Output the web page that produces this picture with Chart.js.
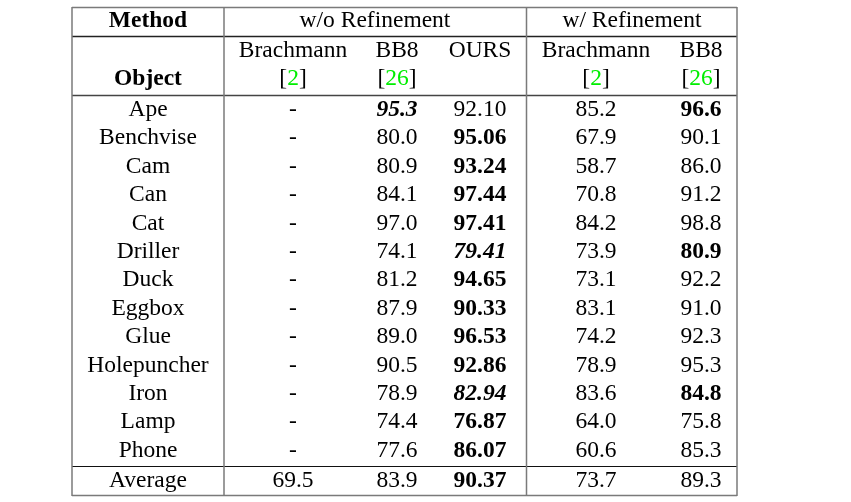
<!DOCTYPE html>
<html lang="en">
<head>
    <meta charset="UTF-8">
    <title>Pose estimation results</title>
    <script src="https://cdn.jsdelivr.net/npm/chart.js"></script>
    <style>
        html, body {
            margin: 0;
            padding: 0;
            background: #ffffff;
        }
        #tableChart {
            display: block;
        }
    </style>
</head>
<body>
<canvas id="tableChart" width="851" height="502"></canvas>

<script>
    // Table data
    const objects = ["Ape", "Benchvise", "Cam", "Can", "Cat", "Driller", "Duck", "Eggbox",
                     "Glue", "Holepuncher", "Iron", "Lamp", "Phone"];
    const brachmannNoRef = [null, null, null, null, null, null, null, null, null, null, null, null, null];
    const bb8NoRef = [95.3, 80.0, 80.9, 84.1, 97.0, 74.1, 81.2, 87.9, 89.0, 90.5, 78.9, 74.4, 77.6];
    const ours = [92.10, 95.06, 93.24, 97.44, 97.41, 79.41, 94.65, 90.33, 96.53, 92.86, 82.94, 76.87, 86.07];
    const brachmannRef = [85.2, 67.9, 58.7, 70.8, 84.2, 73.9, 73.1, 83.1, 74.2, 78.9, 83.6, 64.0, 60.6];
    const bb8Ref = [96.6, 90.1, 86.0, 91.2, 98.8, 80.9, 92.2, 91.0, 92.3, 95.3, 84.8, 75.8, 85.3];
    const averages = [69.5, 83.9, 90.37, 73.7, 89.3];

    // best results: b = bold, bi = bold italic (one entry per object, then average)
    const bb8NoRefMark = ["bi", "", "", "", "", "", "", "", "", "", "", "", "", ""];
    const oursMark = ["", "b", "b", "b", "b", "bi", "b", "b", "b", "b", "bi", "b", "b", "b"];
    const bb8RefMark = ["b", "", "", "", "", "b", "", "", "", "", "b", "", "", ""];

    // Layout (pixels)
    const colX = [148, 293, 397, 480, 596, 701];
    const firstBase = 116, rowStep = 28.4, avgBase = 487;
    const FONT = '"Liberation Serif", "Times New Roman", serif';
    const SIZE = 23.5;

    function fmt(v, d) {
        return v === null ? "-" : v.toFixed(d);
    }

    const rowY = objects.map((o, i) => firstBase + i * rowStep).concat([avgBase]);

    const columns = [
        { texts: objects.concat(["Average"]), marks: [] },
        { texts: brachmannNoRef.map(v => fmt(v, 1)).concat([fmt(averages[0], 1)]), marks: [] },
        { texts: bb8NoRef.map(v => fmt(v, 1)).concat([fmt(averages[1], 1)]), marks: bb8NoRefMark },
        { texts: ours.map(v => fmt(v, 2)).concat([fmt(averages[2], 2)]), marks: oursMark },
        { texts: brachmannRef.map(v => fmt(v, 1)).concat([fmt(averages[3], 1)]), marks: [] },
        { texts: bb8Ref.map(v => fmt(v, 1)).concat([fmt(averages[4], 1)]), marks: bb8RefMark }
    ];

    function fontFor(mark) {
        if (mark === "b") return "bold " + SIZE + "px " + FONT;
        if (mark === "bi") return "italic bold " + SIZE + "px " + FONT;
        return SIZE + "px " + FONT;
    }

    // grid lines of the table
    const gray = "#7a7a7a";
    const hLines = [
        { y: 7.5, x1: 72, x2: 737, color: gray, w: 1.5 },
        { y: 36.5, x1: 72, x2: 737, color: "#222", w: 1.3 },
        { y: 95.5, x1: 72, x2: 737, color: "#444", w: 1.3 },
        { y: 466.5, x1: 72, x2: 737, color: "#111", w: 1.2 },
        { y: 495.5, x1: 72, x2: 737, color: gray, w: 1.5 }
    ];
    const vLines = [
        { x: 72, color: gray, w: 1.5 },
        { x: 224, color: gray, w: 1.5 },
        { x: 526.5, color: gray, w: 1.5 },
        { x: 737, color: gray, w: 1.5 }
    ];

    const tablePlugin = {
        id: "tablePlugin",
        beforeDatasetsDraw(chart) {
            const ctx = chart.ctx;
            const xs = chart.scales.x, ys = chart.scales.y;
            ctx.save();
            hLines.forEach(l => {
                ctx.strokeStyle = l.color;
                ctx.lineWidth = l.w;
                ctx.beginPath();
                ctx.moveTo(xs.getPixelForValue(l.x1), ys.getPixelForValue(l.y));
                ctx.lineTo(xs.getPixelForValue(l.x2), ys.getPixelForValue(l.y));
                ctx.stroke();
            });
            vLines.forEach(l => {
                ctx.strokeStyle = l.color;
                ctx.lineWidth = l.w;
                ctx.beginPath();
                ctx.moveTo(xs.getPixelForValue(l.x), ys.getPixelForValue(7));
                ctx.lineTo(xs.getPixelForValue(l.x), ys.getPixelForValue(496));
                ctx.stroke();
            });

            // header
            ctx.fillStyle = "#000";
            ctx.textAlign = "center";
            ctx.textBaseline = "alphabetic";
            const hx = v => xs.getPixelForValue(v);
            const hy = v => ys.getPixelForValue(v);
            ctx.font = "bold " + SIZE + "px " + FONT;
            ctx.fillText("Method", hx(colX[0]), hy(27));
            ctx.fillText("Object", hx(colX[0]), hy(85));
            ctx.font = SIZE + "px " + FONT;
            ctx.fillText("w/o Refinement", hx(375), hy(27));
            ctx.fillText("w/ Refinement", hx(632), hy(27));
            const heads = ["Brachmann", "BB8", "OURS", "Brachmann", "BB8"];
            heads.forEach((h, i) => ctx.fillText(h, hx(colX[i + 1]), hy(57)));
            const cites = [[1, "2"], [2, "26"], [4, "2"], [5, "26"]];
            cites.forEach(([c, n]) => {
                const wOpen = ctx.measureText("[").width;
                const wNum = ctx.measureText(n).width;
                const wClose = ctx.measureText("]").width;
                let x = hx(colX[c]) - (wOpen + wNum + wClose) / 2;
                ctx.textAlign = "left";
                ctx.fillStyle = "#000";
                ctx.fillText("[", x, hy(85));
                ctx.fillStyle = "#00ee00";
                ctx.fillText(n, x + wOpen, hy(85));
                ctx.fillStyle = "#000";
                ctx.fillText("]", x + wOpen + wNum, hy(85));
                ctx.textAlign = "center";
            });
            ctx.restore();
        },
        afterDatasetsDraw(chart) {
            const ctx = chart.ctx;
            ctx.save();
            ctx.fillStyle = "#000";
            ctx.textAlign = "center";
            ctx.textBaseline = "alphabetic";
            chart.data.datasets.forEach((ds, di) => {
                const meta = chart.getDatasetMeta(di);
                meta.data.forEach((pt, j) => {
                    ctx.font = fontFor(columns[di].marks[j] || "");
                    ctx.fillText(ds.texts[j], pt.x, pt.y);
                });
            });
            ctx.restore();
        }
    };

    const datasets = columns.map((col, c) => ({
        label: "col" + c,
        texts: col.texts,
        data: rowY.map(y => ({ x: colX[c], y: y })),
        pointRadius: 0,
        pointHoverRadius: 0,
        showLine: false
    }));

    new Chart(document.getElementById("tableChart"), {
        type: "scatter",
        data: { datasets: datasets },
        options: {
            responsive: false,
            animation: false,
            events: [],
            layout: { padding: 0 },
            plugins: {
                legend: { display: false },
                tooltip: { enabled: false }
            },
            scales: {
                x: { type: "linear", min: 0, max: 851, display: false },
                y: { type: "linear", min: 0, max: 502, reverse: true, display: false }
            }
        },
        plugins: [tablePlugin]
    });
</script>
</body>
</html>
